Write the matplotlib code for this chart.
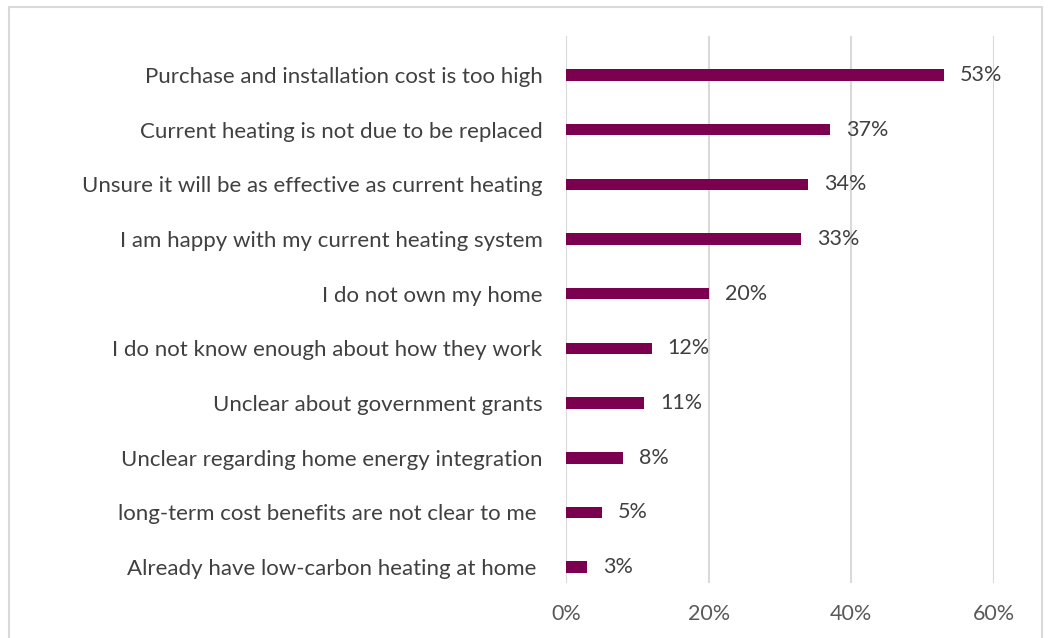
import matplotlib.pyplot as plt
from matplotlib.patches import Rectangle

# survey responses, top to bottom
reasons = [
    "Purchase and installation cost is too high",
    "Current heating is not due to be replaced",
    "Unsure it will be as effective as current heating",
    "I am happy with my current heating system",
    "I do not own my home",
    "I do not know enough about how they work",
    "Unclear about government grants",
    "Unclear regarding home energy integration",
    "long-term cost benefits are not clear to me ",
    "Already have low-carbon heating at home ",
]
shares = [53, 37, 34, 33, 20, 12, 11, 8, 5, 3]
x_ticks = [0, 20, 40, 60]

BAR_COLOR = "#7B0050"
TEXT_COLOR = "#404040"
TICK_COLOR = "#595959"
GRID_COLOR = "#D9D9D9"

plt.rcParams["font.family"] = ["Lato", "DejaVu Sans"]

W, H = 1052, 638
fig = plt.figure(figsize=(W / 100, H / 100), dpi=100)
ax = fig.add_axes([566 / W, 1 - 583 / H, (993.7 - 566) / W, (583 - 36) / H])

n = len(reasons)
ypos = list(range(n - 1, -1, -1))
ax.barh(ypos, shares, height=0.21, color=BAR_COLOR, zorder=3)

for y, v in zip(ypos, shares):
    ax.annotate(f"{v}%", (v, y), xytext=(11.5, 0), textcoords="offset points",
                ha="left", va="center", fontsize=15.5, color=TEXT_COLOR)

ax.set_xlim(0, 60)
ax.set_ylim(-0.29, n - 1 + 0.713)
ax.set_xticks(x_ticks)
ax.set_xticklabels([f"{t}%" for t in x_ticks])
ax.set_yticks(ypos)
ax.set_yticklabels(reasons)
ax.tick_params(axis="x", length=0, pad=15, labelsize=15.5, labelcolor=TICK_COLOR)
ax.tick_params(axis="y", length=0, pad=17, labelsize=16, labelcolor=TEXT_COLOR)
ax.grid(axis="x", color=GRID_COLOR, linewidth=1.5, zorder=0)
for side in ax.spines.values():
    side.set_visible(False)

fig.patches.append(Rectangle((9 / W, -0.05), (1042 - 9) / W, 1.05 - 7 / H,
                             transform=fig.transFigure, fill=False,
                             edgecolor=GRID_COLOR, linewidth=1.5))

fig.savefig("out.png", dpi=100)
